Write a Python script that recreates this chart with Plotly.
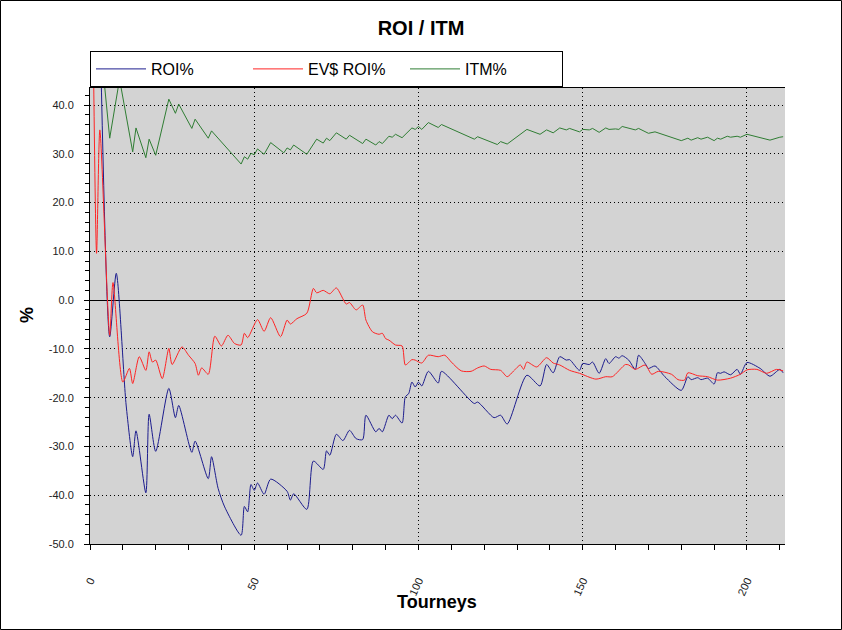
import plotly.graph_objects as go

# ---------------- data ----------------
roi_x = [3, 6, 8, 11, 13, 14, 17, 18, 20, 24, 26, 27, 31, 32, 36, 37, 39, 41, 46, 47,
         48, 49, 50, 51, 53, 55, 60, 61, 62, 66, 68, 71, 72, 73, 75, 77, 79, 81, 83, 84,
         87, 88, 89, 91, 92, 93, 95, 96, 97, 98, 99, 100, 101, 103, 106, 107, 117, 118, 123, 125,
         127, 133, 137, 139, 141, 143, 145, 146, 149, 150, 152, 153, 155, 157, 158, 160, 161, 162, 164, 166,
         167, 169, 170, 172, 175, 180, 182, 183, 185, 186, 188, 190, 191, 192, 193, 195, 197, 198, 200, 204,
         207, 210, 211]
roi_y = [58, -7.5, 5.5, -21.5, -32.1, -26.8, -39.5, -23.4, -31.0, -18.1,
         -24.1, -21.6, -31.2, -28.9, -36.6, -32.1, -38.6, -42.4, -48.2, -42.3,
         -43.4, -37.8, -39.0, -37.5, -39.8, -36.7, -39.2, -41.0, -39.7, -42.9,
         -33.0, -34.7, -30.9, -31.8, -27.5, -28.8, -26.7, -28.4, -28.6, -23.6,
         -27.0, -26.3, -27.0, -23.6, -24.3, -23.6, -25.2, -19.8, -19.2, -16.8,
         -17.8, -16.8, -17.6, -14.6, -17.0, -14.6, -21.2, -20.9, -24.1, -23.6,
         -25.4, -15.4, -17.6, -13.2, -14.9, -11.6, -12.3, -12.2, -14.4, -13.0,
         -13.2, -12.7, -15.0, -12.0, -13.0, -11.6, -11.9, -11.4, -12.3, -14.2,
         -11.3, -13.0, -14.0, -13.5, -15.7, -18.5, -15.7, -16.3, -15.9, -16.3,
         -16.0, -17.2, -14.9, -15.0, -14.7, -15.3, -14.2, -15.2, -12.8, -14.0,
         -15.6, -14.2, -14.9]

ev_x = [1, 2, 3, 6, 7, 10, 12, 13, 15, 17, 18, 19, 20, 22, 24, 25, 28, 30, 32, 33,
        34, 36, 38, 40, 42, 44, 46, 47, 48, 51, 53, 55, 58, 60, 61, 63, 66, 68, 69, 71,
        73, 75, 78, 79, 81, 83, 84, 86, 88, 89, 90, 91, 93, 95, 96, 98, 99, 101, 103, 106,
        108, 110, 113, 116, 118, 120, 122, 125, 127, 129, 131, 132, 133, 136, 139, 141, 143, 146, 149, 154,
        157, 159, 163, 164, 166, 169, 171, 173, 177, 179, 181, 182, 185, 188, 191, 195, 198, 200, 203, 206,
        209, 211]
ev_y = [52, 9.6, 34.9, -7.2, 3.6, -16.8, -14.0, -17.1, -11.6, -14.4,
        -10.6, -12.7, -12.3, -16.1, -9.9, -13.2, -9.6, -11.3, -13.0, -15.4,
        -13.9, -15.2, -7.4, -9.4, -7.2, -8.9, -9.2, -6.8, -7.7, -4.0,
        -6.4, -3.6, -7.5, -4.1, -4.9, -3.8, -2.7, 2.4, 1.5, 2.0,
        1.3, 2.5, -0.8, -0.5, -2.0, -1.0, -4.1, -6.5, -7.0, -6.8,
        -7.9, -8.2, -9.2, -9.4, -13.3, -12.2, -12.3, -12.9, -11.3, -11.6,
        -11.3, -12.7, -14.5, -14.6, -13.9, -13.5, -14.2, -14.4, -15.7, -14.5,
        -13.3, -14.2, -12.7, -13.7, -11.8, -12.9, -13.3, -14.4, -15.0, -16.2,
        -15.7, -15.7, -13.2, -13.3, -14.2, -13.3, -15.2, -14.6, -15.2, -16.3,
        -16.4, -14.9, -15.5, -15.7, -16.4, -16.0, -15.2, -14.3, -14.2, -15.0,
        -14.2, -14.5]

itm_x = [4, 6, 9, 13, 14, 17, 18, 20, 24, 26, 27, 31, 32, 36, 37, 46, 47, 48, 49, 50,
         51, 53, 55, 59, 60, 61, 62, 66, 69, 71, 72, 73, 75, 78, 79, 83, 84, 87, 88, 89,
         91, 92, 93, 95, 98, 99, 100, 101, 103, 106, 107, 117, 118, 124, 125, 127, 133, 137, 139, 141,
         143, 145, 146, 149, 150, 152, 153, 155, 157, 158, 160, 161, 162, 166, 167, 170, 172, 180, 182, 183,
         185, 186, 188, 190, 191, 192, 194, 195, 197, 198, 200, 207, 210, 211]
itm_y = [47, 33.2, 45.3, 30.4, 35.3, 29.2, 33.0, 29.7, 41.2, 38.3,
         40.2, 35.2, 37.1, 33.2, 34.7, 27.9, 29.4, 28.9, 30.1, 29.8,
         31.0, 29.9, 32.3, 30.2, 31.2, 30.8, 31.8, 29.9, 33.0, 32.2,
         33.2, 32.7, 34.3, 33.0, 33.8, 32.1, 33.0, 31.8, 32.5, 32.1,
         33.6, 33.4, 34.0, 33.3, 35.3, 35.0, 35.6, 35.0, 36.4, 35.4,
         36.0, 33.0, 33.5, 31.9, 32.5, 32.0, 35.0, 34.0, 34.9, 34.3,
         35.3, 34.9, 35.2, 34.5, 35.0, 34.9, 35.2, 34.4, 35.3, 35.0,
         35.1, 35.0, 35.6, 34.9, 35.2, 34.2, 34.5, 32.7, 33.2, 32.8,
         33.3, 33.0, 33.4, 32.7, 33.2, 33.0, 33.6, 33.4, 33.6, 33.4,
         34.0, 32.8, 33.4, 33.5]

series_names = ["ROI%", "EV$ ROI%", "ITM%"]
x_ticks = [0, 50, 100, 150, 200]
x_tick_labels = ["0", "50", "100", "150", "200"]
y_ticks = [40, 30, 20, 10, 0, -10, -20, -30, -40, -50]
y_tick_labels = ["40.0", "30.0", "20.0", "10.0", "0.0", "-10.0", "-20.0", "-30.0", "-40.0", "-50.0"]
title_text = "ROI / ITM"
x_title = "Tourneys"
y_title = "%"

# ---------------- layout geometry ----------------
W, H = 842, 630
L, R, T, B = 90, 57, 88, 86
PW, PH = W - L - R, H - T - B
X_RANGE = [0, 211.57]
Y_RANGE = [-50, 43.49]
FONT = "Liberation Sans, Arial, sans-serif"
GRID_DASH = "1px,3px"


def px_x(px):
    return (px - L) / PW


def px_y(py):
    return (H - B - py) / PH


fig = go.Figure()
colors = ["#1c1c8e", "#ff2424", "#2f7d33"]
fig.add_trace(go.Scatter(x=roi_x, y=roi_y, name=series_names[0], mode="lines",
                         line=dict(color=colors[0], width=1, shape="spline", smoothing=0.7)))
fig.add_trace(go.Scatter(x=ev_x, y=ev_y, name=series_names[1], mode="lines",
                         line=dict(color=colors[1], width=1, shape="spline", smoothing=0.7)))
fig.add_trace(go.Scatter(x=itm_x, y=itm_y, name=series_names[2], mode="lines",
                         line=dict(color=colors[2], width=1)))

tickfont = dict(family=FONT, size=11, color="#222222")

common_y = dict(range=Y_RANGE, tickmode="array", tickvals=y_ticks, ticktext=y_tick_labels,
                tickcolor="black", tickwidth=1, fixedrange=True)

fig.update_layout(
    width=W, height=H,
    margin=dict(l=L, r=R, t=T, b=B, autoexpand=False),
    paper_bgcolor="white",
    plot_bgcolor="#d3d3d3",
    font=dict(family=FONT, color="black"),
    title=dict(text="<b>" + title_text + "</b>", x=0.5, xref="container", xanchor="center",
               y=1 - 28 / H, yref="container", yanchor="middle",
               font=dict(family=FONT, size=20, color="black")),
    showlegend=True,
    legend=dict(orientation="h", x=0, xanchor="left", y=px_y(51), yanchor="top",
                bgcolor="white", bordercolor="black", borderwidth=1,
                font=dict(family=FONT, size=16, color="black"),
                entrywidth=92, entrywidthmode="pixels", itemwidth=50,
                itemclick=False, itemdoubleclick=False),
    xaxis=dict(range=X_RANGE, tickmode="array", tickvals=x_ticks, ticktext=x_tick_labels,
               tickangle=-65, ticks="outside", ticklen=5, tickcolor="black", tickwidth=1,
               ticklabelstandoff=20, tickfont=tickfont,
               showline=True, linecolor="black", linewidth=1, mirror=True,
               showgrid=True, gridcolor="black", gridwidth=1, griddash=GRID_DASH,
               zeroline=False, fixedrange=True,
               minor=dict(tickmode="linear", tick0=0, dtick=10, ticks="outside", ticklen=5,
                          tickcolor="black", showgrid=False)),
    xaxis2=dict(overlaying="x", anchor="y", side="bottom", range=X_RANGE,
                tickmode="array", tickvals=x_ticks, ticks="inside", ticklen=5, tickcolor="black",
                showticklabels=False, showline=True, linecolor="black", mirror="allticks",
                showgrid=False, zeroline=False, fixedrange=True,
                minor=dict(tickmode="linear", tick0=0, dtick=10, ticks="inside", ticklen=5,
                           tickcolor="black", showgrid=False)),
    yaxis=dict(**common_y, side="left", ticks="outside", ticklen=5,
               ticklabelstandoff=8, tickfont=tickfont,
               showline=True, linecolor="black", linewidth=1,
               showgrid=True, gridcolor="black", gridwidth=1, griddash=GRID_DASH,
               zeroline=True, zerolinecolor="black", zerolinewidth=1,
               minor=dict(tickmode="linear", tick0=0, dtick=2, ticks="outside", ticklen=4,
                          tickcolor="black", showgrid=False)),
    yaxis2=dict(**common_y, overlaying="y", anchor="x", side="right", ticks="outside", ticklen=5,
                ticklabelstandoff=7, tickfont=tickfont,
                showline=True, linecolor="black", linewidth=1,
                showgrid=False, zeroline=False,
                minor=dict(tickmode="linear", tick0=0, dtick=2, ticks="outside", ticklen=4,
                           tickcolor="black", showgrid=False)),
    yaxis3=dict(**common_y, overlaying="y", anchor="x", side="left", ticks="inside", ticklen=5,
                showticklabels=False, showline=True, linecolor="black", showgrid=False, zeroline=False,
                minor=dict(tickmode="linear", tick0=0, dtick=2, ticks="inside", ticklen=4,
                           tickcolor="black", showgrid=False)),
    yaxis4=dict(**common_y, overlaying="y", anchor="x", side="right", ticks="inside", ticklen=5,
                showticklabels=False, showline=True, linecolor="black", showgrid=False, zeroline=False,
                minor=dict(tickmode="linear", tick0=0, dtick=2, ticks="inside", ticklen=4,
                           tickcolor="black", showgrid=False)),
    annotations=[
        dict(text="<b>" + x_title + "</b>", xref="paper", yref="paper",
             x=px_x(437), y=px_y(602), xanchor="center", yanchor="middle", showarrow=False,
             font=dict(family=FONT, size=18, color="black")),
        dict(text="<b>" + y_title + "</b>", xref="paper", yref="paper",
             x=px_x(27), y=px_y(315), xanchor="center", yanchor="middle", showarrow=False,
             textangle=-90, font=dict(family=FONT, size=18, color="black")),
    ],
    shapes=[
        dict(type="rect", xref="paper", yref="paper",
             x0=px_x(0.5), x1=px_x(W - 0.5), y0=px_y(H - 0.5), y1=px_y(0.5),
             line=dict(color="black", width=1), fillcolor="rgba(0,0,0,0)", layer="above"),
    ],
)

fig.write_html(
    "out.html",
    config={"displayModeBar": False, "staticPlot": True},
    post_script="document.body.style.margin='0px';document.body.style.padding='0px';"
                "document.documentElement.style.overflow='hidden';",
)
